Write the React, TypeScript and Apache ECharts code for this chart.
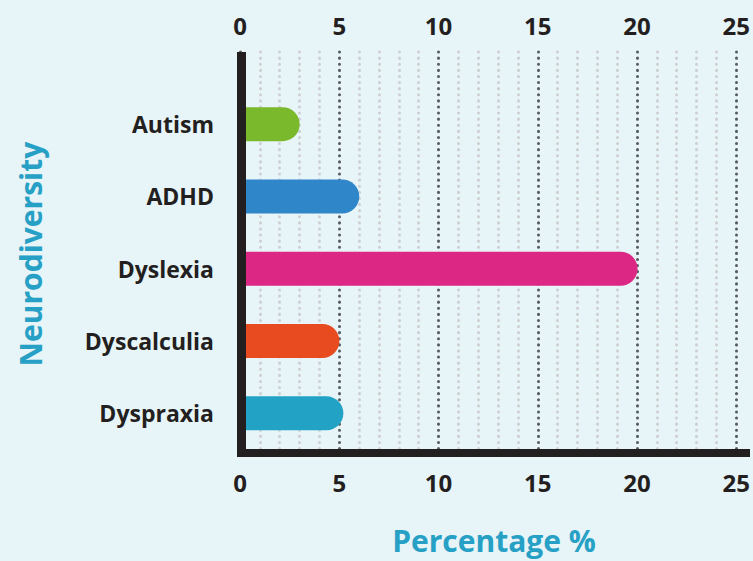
import React, { useEffect, useRef } from "react";
import * as echarts from "echarts";

const categories = ["Autism", "ADHD", "Dyslexia", "Dyscalculia", "Dyspraxia"];
const values = [3, 6, 20, 5, 5.2];
const barColors = ["#7AB82C", "#2F86C9", "#DD2785", "#E84B20", "#22A3C5"];
const tickMin = 0;
const tickMax = 25;
const tickStep = 5;

const FONT = "'Open Sans', 'DejaVu Sans', sans-serif";
const DARK = "#231F20";
const TEAL = "#27A0C5";

export default function App() {
  const ref = useRef<HTMLDivElement>(null);
  useEffect(() => {
    if (!ref.current) return;
    const chart = echarts.init(ref.current, null, { renderer: "svg" });
    const left = 240;
    const right = 16;
    chart.setOption({
      animation: false,
      backgroundColor: "#E7F4F8",
      grid: [
        { left, right, top: 52, bottom: 108 },
        { left, right, top: 88, bottom: 111.5 },
      ],
      xAxis: [
        {
          type: "value",
          gridIndex: 0,
          position: "top",
          min: tickMin,
          max: tickMax,
          interval: tickStep,
          axisLine: { show: false },
          axisTick: { show: false },
          axisLabel: {
            margin: 15,
            fontSize: 24,
            fontWeight: "bold",
            fontFamily: FONT,
            color: DARK,
          },
          splitLine: {
            show: true,
            lineStyle: { color: "#555A5E", width: 3, type: [0.1, 6], cap: "round" },
          },
          minorTick: { show: false, splitNumber: 5 },
          minorSplitLine: {
            show: true,
            lineStyle: { color: "#CDCFD0", width: 3, type: [0.1, 6], cap: "round" },
          },
        },
        {
          type: "value",
          gridIndex: 0,
          position: "bottom",
          min: tickMin,
          max: tickMax,
          interval: tickStep,
          axisLine: { show: false },
          axisTick: { show: false },
          splitLine: { show: false },
          axisLabel: {
            margin: 17,
            fontSize: 24,
            fontWeight: "bold",
            fontFamily: FONT,
            color: DARK,
          },
        },
        {
          type: "value",
          gridIndex: 1,
          min: tickMin,
          max: tickMax,
          show: false,
        },
      ],
      yAxis: [
        { type: "value", gridIndex: 0, show: false },
        {
          type: "category",
          gridIndex: 1,
          data: categories,
          inverse: true,
          axisLine: { show: false },
          axisTick: { show: false },
          splitLine: { show: false },
          axisLabel: {
            margin: 26,
            fontSize: 23,
            fontWeight: "bold",
            fontFamily: FONT,
            color: DARK,
          },
        },
      ],
      series: [
        {
          type: "bar",
          xAxisIndex: 2,
          yAxisIndex: 1,
          barWidth: 34,
          data: values.map((v, i) => ({
            value: v,
            itemStyle: { color: barColors[i], borderRadius: [0, 17, 17, 0] },
          })),
        },
      ],
      graphic: [
        {
          type: "rect",
          z: 100,
          shape: { x: 237, y: 52, width: 9, height: 405 },
          style: { fill: DARK },
        },
        {
          type: "rect",
          z: 100,
          shape: { x: 237, y: 449, width: 513, height: 8 },
          style: { fill: DARK },
        },
        {
          type: "text",
          z: 100,
          x: 30,
          y: 254,
          rotation: Math.PI / 2,
          style: {
            text: "Neurodiversity",
            fill: TEAL,
            font: `bold 30px ${FONT}`,
            textAlign: "center",
            textVerticalAlign: "middle",
          },
        },
        {
          type: "text",
          z: 100,
          x: 494,
          y: 540,
          style: {
            text: "Percentage %",
            fill: TEAL,
            font: `bold 30px ${FONT}`,
            textAlign: "center",
            textVerticalAlign: "middle",
          },
        },
      ],
    });
    return () => chart.dispose();
  }, []);
  return (
    <div
      ref={ref}
      style={{ position: "fixed", left: 0, top: 0, width: 753, height: 561 }}
    />
  );
}
